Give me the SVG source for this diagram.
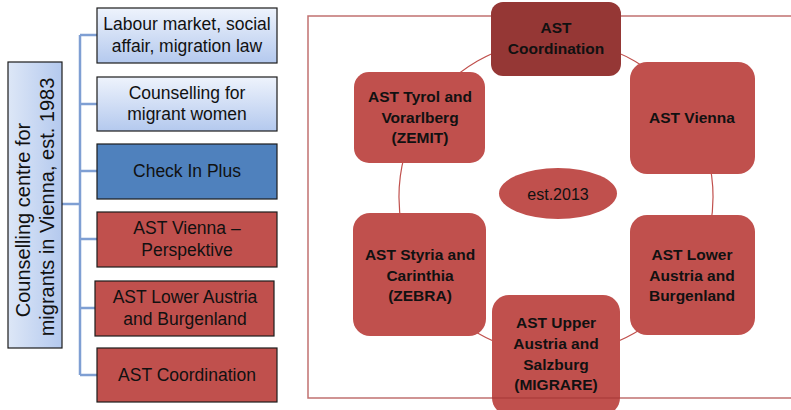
<svg xmlns="http://www.w3.org/2000/svg" width="791" height="410" viewBox="0 0 791 410">
<defs>
<linearGradient id="lb" x1="0" y1="0" x2="0" y2="1">
<stop offset="0" stop-color="#eef3fc"/>
<stop offset="1" stop-color="#b4c9ee"/>
</linearGradient>
<linearGradient id="lbv" x1="0" y1="0" x2="1" y2="0">
<stop offset="0" stop-color="#dde7f7"/>
<stop offset="1" stop-color="#b4c9ee"/>
</linearGradient>
</defs>
<style>
.box{stroke:#1c1c1c;stroke-width:1.2}
.red{fill:#c0504d}
.blue{fill:#4f81bd}
.lt{font-family:"Liberation Sans",Arial,sans-serif;font-size:17.5px;fill:#111;text-anchor:middle}
.rt{font-family:"Liberation Sans",Arial,sans-serif;font-size:15.5px;font-weight:bold;fill:#111;text-anchor:middle}
.tree{fill:none;stroke:#7f9fd3;stroke-width:2.5}
.arc{fill:none;stroke:#c0504d;stroke-width:1.2}
.node{fill:#c0504d}
</style>
<g id="connectors">
<path class="tree" d="M62,204 H80 M80,35 V375 M80,35 H97 M80,104 H97 M80,171 H97 M80,239 H97 M80,308 H95 M80,375 H97"/>
<path class="arc" d="M556,40 A157,157 0 0 1 692,118.5 A157,157 0 0 1 692,275.5 A157,157 0 0 1 556,354 A157,157 0 0 1 420,275.5 A157,157 0 0 1 420,118.5 A157,157 0 0 1 556,40"/>
</g>
<g id="root">
<rect class="box" x="8" y="62" width="54" height="286" fill="url(#lbv)"/>
<text font-family="Liberation Sans, Arial, sans-serif" font-size="20" fill="#111" text-anchor="middle" transform="translate(30,220) rotate(-90)">Counselling centre for</text>
<text font-family="Liberation Sans, Arial, sans-serif" font-size="20" fill="#111" text-anchor="middle" transform="translate(54,207) rotate(-90)">migrants in Vienna, est. 1983</text>
</g>
<g id="labour">
<rect class="box" x="97" y="8" width="180" height="55" fill="url(#lb)"/>
<text class="lt" x="187" y="30">Labour market, social</text>
<text class="lt" x="187" y="52">affair, migration law</text>
</g>
<g id="women">
<rect class="box" x="97" y="77" width="180" height="54" fill="url(#lb)"/>
<text class="lt" x="187" y="99">Counselling for</text>
<text class="lt" x="187" y="120">migrant women</text>
</g>
<g id="checkin">
<rect class="box blue" x="97" y="144" width="180" height="55"/>
<text class="lt" x="187" y="177">Check In Plus</text>
</g>
<g id="perspektive">
<rect class="box red" x="97" y="212" width="180" height="55"/>
<text class="lt" x="187" y="234">AST Vienna –</text>
<text class="lt" x="187" y="256">Perspektive</text>
</g>
<g id="lower-left">
<rect class="box red" x="95" y="281" width="179" height="55"/>
<text class="lt" x="185" y="303">AST Lower Austria</text>
<text class="lt" x="185" y="325">and Burgenland</text>
</g>
<g id="coord-left">
<rect class="box red" x="97" y="348" width="180" height="54"/>
<text class="lt" x="187" y="381">AST Coordination</text>
</g>
<g id="upper-austria">
<rect class="node" x="492" y="295" width="128" height="120" rx="17"/>
<text class="rt" x="556" y="328">AST Upper</text>
<text class="rt" x="556" y="349">Austria  and</text>
<text class="rt" x="556" y="370">Salzburg</text>
<text class="rt" x="556" y="390">(MIGRARE)</text>
</g>
<rect x="308" y="16" width="500" height="382" fill="none" stroke="#a83a37" stroke-opacity="0.72" stroke-width="1.5"/>
<g id="est">
<ellipse cx="558" cy="193.5" rx="59" ry="25.5" fill="#c0504d"/>
<text x="558" y="200" font-family="Liberation Sans, Arial, sans-serif" font-size="16" fill="#111" text-anchor="middle">est.2013</text>
</g>
<g id="coordination">
<rect x="491" y="2" width="130" height="74" rx="12" fill="#953735"/>
<text class="rt" x="556" y="33">AST</text>
<text class="rt" x="556" y="54">Coordination</text>
</g>
<g id="vienna">
<rect class="node" x="630" y="62" width="125" height="112" rx="17"/>
<text class="rt" x="692" y="123">AST Vienna</text>
</g>
<g id="tyrol">
<rect class="node" x="354" y="72" width="131" height="91" rx="15"/>
<text class="rt" x="420" y="102">AST Tyrol and</text>
<text class="rt" x="420" y="123">Vorarlberg</text>
<text class="rt" x="420" y="143">(ZEMIT)</text>
</g>
<g id="lower-austria">
<rect class="node" x="630" y="215" width="125" height="120" rx="17"/>
<text class="rt" x="692" y="260">AST Lower</text>
<text class="rt" x="692" y="281">Austria and</text>
<text class="rt" x="692" y="301">Burgenland</text>
</g>
<g id="styria">
<rect class="node" x="353" y="213" width="133" height="123" rx="17"/>
<text class="rt" x="420" y="260">AST Styria and</text>
<text class="rt" x="420" y="281">Carinthia</text>
<text class="rt" x="420" y="301">(ZEBRA)</text>
</g>
</svg>
